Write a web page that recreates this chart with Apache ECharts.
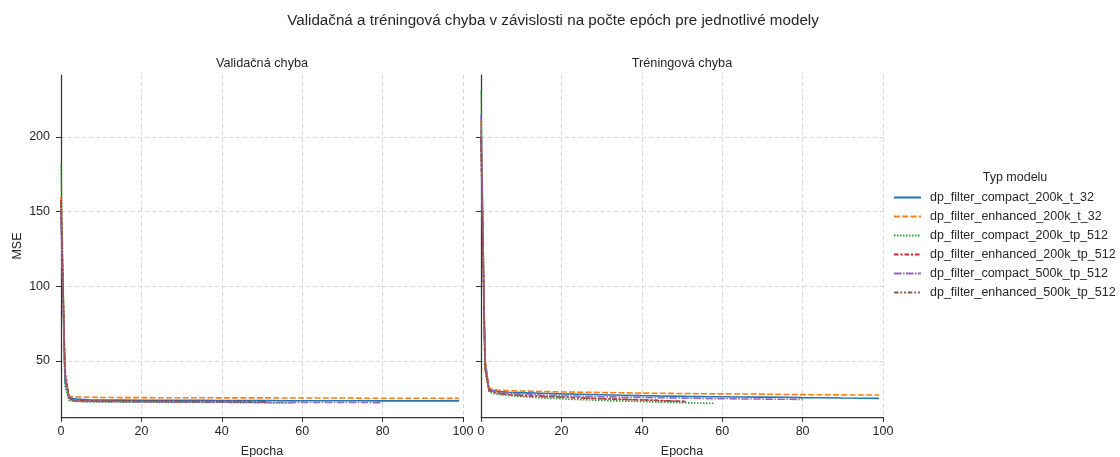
<!DOCTYPE html>
<html>
<head>
<meta charset="utf-8">
<script src="https://cdn.jsdelivr.net/npm/echarts@6/dist/echarts.min.js"></script>
<style>
html,body{margin:0;padding:0;background:#fff;}
#chart{width:1120px;height:457px;}
</style>
</head>
<body>
<div id="chart"></div>
<script>
const mainTitle = 'Validačná a tréningová chyba v závislosti na počte epóch pre jednotlivé modely';
const panelTitles = ['Validačná chyba', 'Tréningová chyba'];
const legendTitle = 'Typ modelu';
const xName = 'Epocha';
const yName = 'MSE';
const xTicks = [0, 20, 40, 60, 80, 100];
const yTicks = [50, 100, 150, 200];

const modelNames = [
  'dp_filter_compact_200k_t_32',
  'dp_filter_enhanced_200k_t_32',
  'dp_filter_compact_200k_tp_512',
  'dp_filter_enhanced_200k_tp_512',
  'dp_filter_compact_500k_tp_512',
  'dp_filter_enhanced_500k_tp_512'
];

const epochs = [0,1,2,3,4,5,7,10,15,20,25,30,35,40,45,51,58,65,70,75,80,85,90,95,99];

// Validation error (MSE)
const valCompact200kT32 = [152,36,25.5,24.8,24.5,24.3,24.1,23.9,23.8,23.7,23.7,23.6,23.6,23.5,23.5,23.5,23.4,23.4,23.4,23.4,23.3,23.3,23.3,23.3,23.3];
const valEnhanced200kT32 = [160,40,26.5,26.0,25.9,25.8,25.7,25.6,25.5,25.5,25.4,25.4,25.4,25.3,25.3,25.3,25.2,25.2,25.2,25.1,25.1,25.1,25.1,25.0,25.0];
const valCompact200kTp512 = [182,33,23.5,23.0,22.9,22.8,22.7,22.6,22.5,22.4,22.3,22.3,22.2,22.2,22.1,22.0,21.9];
const valEnhanced200kTp512 = [158,42,25,23.8,23.6,23.5,23.3,23.2,23.1,23.0,23.0,22.9,22.9,22.8,22.8,22.7];
const valCompact500kTp512 = [150,38,24.5,23.3,23.1,23.0,22.9,22.8,22.7,22.6,22.6,22.5,22.5,22.4,22.4,22.3,22.3,22.2,22.2,22.2,22.1];
const valEnhanced500kTp512 = [156,44,25.5,23.6,23.4,23.3,23.2,23.1,23.0,22.9,22.9,22.8,22.8,22.7,22.7,22.6];

// Training error (MSE)
const trnCompact200kT32 = [205,48,31,30.2,29.8,29.5,29.1,28.8,28.4,28.0,27.7,27.4,27.1,26.8,26.6,26.3,26.1,25.9,25.8,25.7,25.5,25.4,25.2,25.1,25.0];
const trnEnhanced200kT32 = [210,52,32,31.0,30.6,30.4,30.1,29.9,29.6,29.3,29.1,28.9,28.7,28.5,28.4,28.2,28.0,27.9,27.8,27.6,27.5,27.4,27.3,27.2,27.2];
const trnCompact200kTp512 = [231,44,29.5,28.3,27.8,27.4,26.8,26.2,25.3,24.6,24.1,23.6,23.2,22.8,22.4,22.0,21.7];
const trnEnhanced200kTp512 = [200,46,30.5,29.2,28.6,28.2,27.6,27.0,26.4,25.9,25.3,24.8,24.4,24.0,23.5,22.9];
const trnCompact500kTp512 = [215,50,31,29.8,29.3,29.0,28.5,28.0,27.2,26.7,26.4,26.1,25.8,25.6,25.4,25.1,24.8,24.6,24.5,24.4,24.3];
const trnEnhanced500kTp512 = [198,45,30.2,29.0,28.4,28.0,27.4,26.8,26.2,25.8,25.2,24.7,24.3,23.9,23.4,22.8];

const valSets = [valCompact200kT32, valEnhanced200kT32, valCompact200kTp512, valEnhanced200kTp512, valCompact500kTp512, valEnhanced500kTp512];
const trnSets = [trnCompact200kT32, trnEnhanced200kT32, trnCompact200kTp512, trnEnhanced200kTp512, trnCompact500kTp512, trnEnhanced500kTp512];

const colors = ['#1f77b4','#ff7f0e','#2ca02c','#d62728','#9467bd','#8c564b'];
const dashes = ['solid', [6,2.25], [1.5,1.5], [4.5,1.875,2.25,1.875], [7.5,1.5,1.5,1.5], [4.5,1.875,1.875,1.875,1.875,1.875]];

const FONT = '"Liberation Sans", Arial, sans-serif';
const TXT = '#262626';

function pairs(vals) { return vals.map((v, i) => [epochs[i], v]); }

const series = [];
[valSets, trnSets].forEach((sets, gi) => {
  sets.forEach((vals, si) => {
    series.push({
      name: modelNames[si],
      type: 'line',
      xAxisIndex: gi, yAxisIndex: gi,
      data: pairs(vals),
      symbol: 'none', showSymbol: false,
      lineStyle: { color: colors[si], width: 1.6, type: dashes[si] },
      itemStyle: { color: colors[si] },
      emphasis: { disabled: true },
      z: 3 + si
    });
  });
});

function xAxis(gi) {
  return {
    gridIndex: gi, type: 'value', min: 0, max: 100, interval: 20,
    name: xName, nameLocation: 'middle', nameGap: 28,
    nameTextStyle: { fontFamily: FONT, fontSize: 12.5, color: TXT },
    axisLine: { show: true, lineStyle: { color: '#333', width: 1.25 } },
    axisTick: { show: true, length: 5, lineStyle: { color: '#333', width: 1 } },
    axisLabel: { fontFamily: FONT, fontSize: 12.5, color: TXT, margin: 8 },
    splitLine: { show: true, lineStyle: { color: '#d6d6d6', type: [4, 3], width: 1 } }
  };
}
function yAxis(gi) {
  return {
    gridIndex: gi, type: 'value', min: 12.5, max: 241.5,
    name: gi === 0 ? yName : '', nameLocation: 'middle', nameGap: 37,
    nameTextStyle: { fontFamily: FONT, fontSize: 12.5, color: TXT },
    axisLine: { show: true, lineStyle: { color: '#333', width: 1.25 } },
    axisTick: { show: true, length: 5, customValues: yTicks, lineStyle: { color: '#333', width: 1 } },
    axisLabel: { show: gi === 0, customValues: yTicks, fontFamily: FONT, fontSize: 12.5, color: TXT, margin: 11 },
    splitLine: { show: true, lineStyle: { color: '#d6d6d6', type: [4, 3], width: 1 } }
  };
}

const chart = echarts.init(document.getElementById('chart'), null, { renderer: 'canvas' });
chart.setOption({
  animation: false,
  backgroundColor: '#fff',
  textStyle: { fontFamily: FONT },
  grid: [
    { left: 61, top: 75, width: 402, height: 342, outerBoundsMode: 'none', containLabel: false },
    { left: 481, top: 75, width: 402, height: 342, outerBoundsMode: 'none', containLabel: false }
  ],
  xAxis: [xAxis(0), xAxis(1)],
  yAxis: [yAxis(0), yAxis(1)],
  legend: {
    data: modelNames, orient: 'vertical', left: 893, top: 191,
    itemWidth: 27, itemHeight: 14, itemGap: 6, padding: 0,
    itemStyle: { opacity: 0 },
    textStyle: { fontFamily: FONT, fontSize: 12.5, color: TXT, padding: [0,0,0,4] },
    selectedMode: false
  },
  graphic: [
    { type: 'text', x: 553, y: 21, style: { text: mainTitle, font: '15.2px ' + FONT, fill: TXT, textAlign: 'center', textVerticalAlign: 'middle' } },
    { type: 'text', x: 262, y: 63, style: { text: panelTitles[0], font: '12.7px ' + FONT, fill: TXT, textAlign: 'center', textVerticalAlign: 'middle' } },
    { type: 'text', x: 682, y: 63, style: { text: panelTitles[1], font: '12.7px ' + FONT, fill: TXT, textAlign: 'center', textVerticalAlign: 'middle' } },
    { type: 'text', x: 1015, y: 178, style: { text: legendTitle, font: '12.5px ' + FONT, fill: TXT, textAlign: 'center', textVerticalAlign: 'middle' } }
  ],
  series: series
});
</script>
</body>
</html>
